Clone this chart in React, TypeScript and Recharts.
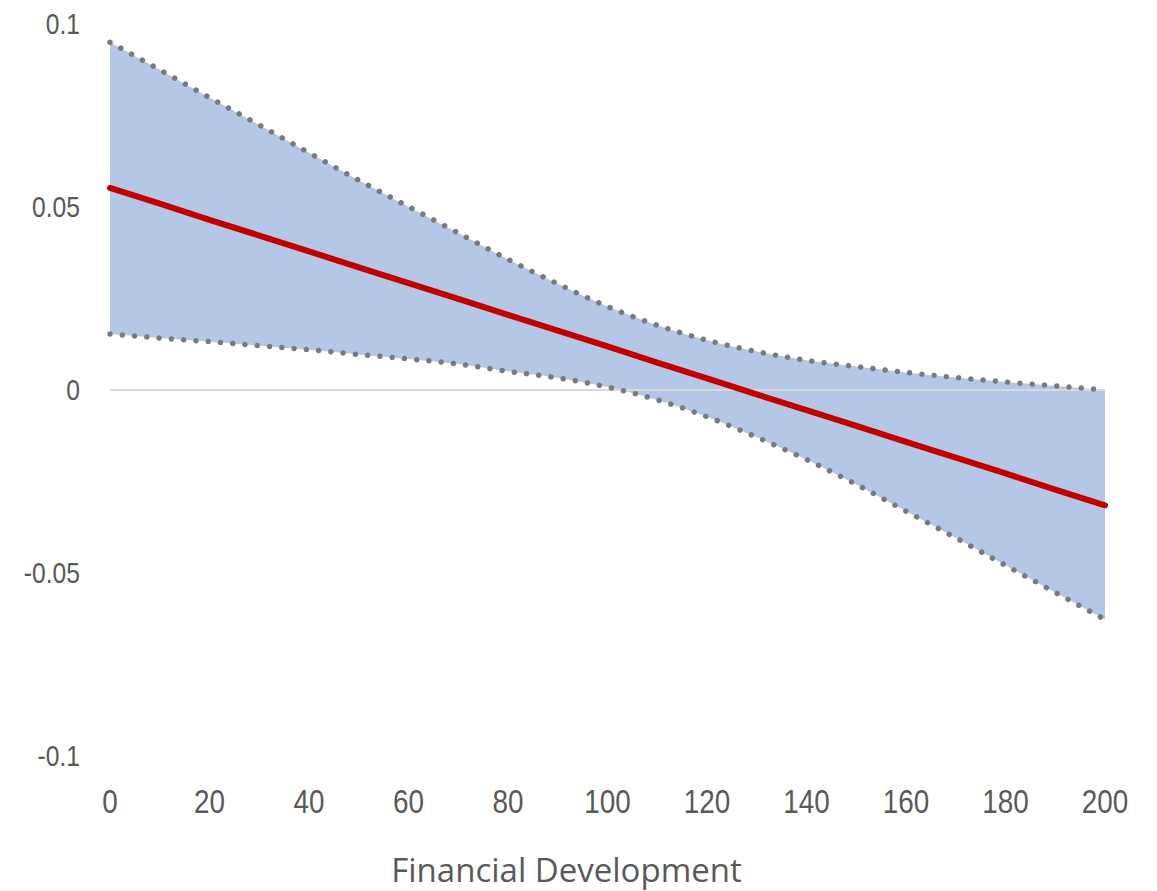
import React from 'react';
import { ComposedChart, Area, Line, XAxis, YAxis, ReferenceLine } from 'recharts';

const financialDev = [0, 10, 20, 30, 40, 50, 60, 70, 80, 90, 100, 110, 120, 130, 140, 150, 160, 170, 180, 190, 200];
const upperBound = [0.095, 0.0875, 0.0799, 0.0724, 0.0648, 0.0573, 0.0501, 0.0429, 0.0357, 0.029, 0.0228, 0.0177, 0.0136, 0.0105, 0.0081, 0.0064, 0.0048, 0.0034, 0.0022, 0.0011, 0.0];
const lowerBound = [0.0153, 0.0142, 0.0132, 0.0121, 0.011, 0.0097, 0.0085, 0.0071, 0.0051, 0.0033, 0.0008, -0.0027, -0.0073, -0.0129, -0.019, -0.0258, -0.0331, -0.0404, -0.0479, -0.0553, -0.0627];
const marginalEffect = [0.0552, 0.0509, 0.0465, 0.0422, 0.0379, 0.0335, 0.0292, 0.0249, 0.0205, 0.0162, 0.0119, 0.0075, 0.0032, -0.0012, -0.0055, -0.0098, -0.0142, -0.0185, -0.0228, -0.0272, -0.0315];

const xTicks = [0, 20, 40, 60, 80, 100, 120, 140, 160, 180, 200];
const yTicks = [-0.1, -0.05, 0, 0.05, 0.1];
const yTickLabels = ['-0.1', '-0.05', '0', '0.05', '0.1'];
const xTitle = 'Financial Development';

const data = financialDev.map((x, i) => ({
  x,
  upper: upperBound[i],
  lower: lowerBound[i],
  effect: marginalEffect[i],
  band: [lowerBound[i], upperBound[i]],
}));

const tickFont = "'Liberation Sans', Arial, sans-serif";
const NARROW = 0.82;

const XTick = (props: any) => {
  const { x, y, payload } = props;
  return (
    <g transform={`translate(${x},${y})`}>
      <text
        transform={`scale(${NARROW},1)`}
        x={0}
        y={0}
        dy={22}
        textAnchor="middle"
        fill="#595959"
        fontSize={34}
        fontFamily={tickFont}
      >
        {String(payload.value)}
      </text>
    </g>
  );
};

const YTick = (props: any) => {
  const { x, y, payload } = props;
  const label = yTickLabels[yTicks.indexOf(payload.value)] ?? String(payload.value);
  return (
    <g transform={`translate(${x},${y})`}>
      <text
        transform={`scale(${0.85},1)`}
        x={0}
        y={0}
        dy={10}
        textAnchor="end"
        fill="#595959"
        fontSize={29}
        fontFamily={tickFont}
      >
        {label}
      </text>
    </g>
  );
};

export default function App() {
  return (
    <div style={{ width: 1140, height: 883 }}>
      <ComposedChart
        width={1140}
        height={883}
        data={data}
        margin={{ top: 16, right: 43, bottom: 55, left: 0 }}
      >
        <XAxis
          dataKey="x"
          type="number"
          domain={[0, 200]}
          ticks={xTicks}
          axisLine={false}
          tickLine={false}
          height={80}
          tickMargin={29}
          tick={<XTick />}
          label={{
            value: xTitle,
            position: 'bottom',
            offset: 23,
            dx: -41,
            fill: '#595959',
            fontSize: 33,
            fontFamily: "'Open Sans', sans-serif",
          }}
        />
        <YAxis
          type="number"
          domain={[-0.1, 0.1]}
          ticks={yTicks}
          axisLine={false}
          tickLine={false}
          width={102}
          tickMargin={24}
          tick={<YTick />}
        />
        <Area
          dataKey="band"
          type="monotone"
          fill="#b4c7e7"
          fillOpacity={1}
          stroke="none"
          isAnimationActive={false}
          activeDot={false}
        />
        <ReferenceLine y={0} stroke="#d9d9d9" strokeWidth={2} />
        <Line
          dataKey="upper"
          type="monotone"
          stroke="#7a7a7a"
          strokeWidth={5.5}
          strokeDasharray="0.01 12.3"
          strokeLinecap="round"
          dot={false}
          activeDot={false}
          isAnimationActive={false}
        />
        <Line
          dataKey="lower"
          type="monotone"
          stroke="#7a7a7a"
          strokeWidth={5.5}
          strokeDasharray="0.01 12.3"
          strokeLinecap="round"
          dot={false}
          activeDot={false}
          isAnimationActive={false}
        />
        <Line
          dataKey="effect"
          type="linear"
          stroke="#c00000"
          strokeWidth={6}
          strokeLinecap="round"
          dot={false}
          activeDot={false}
          isAnimationActive={false}
        />
      </ComposedChart>
    </div>
  );
}
